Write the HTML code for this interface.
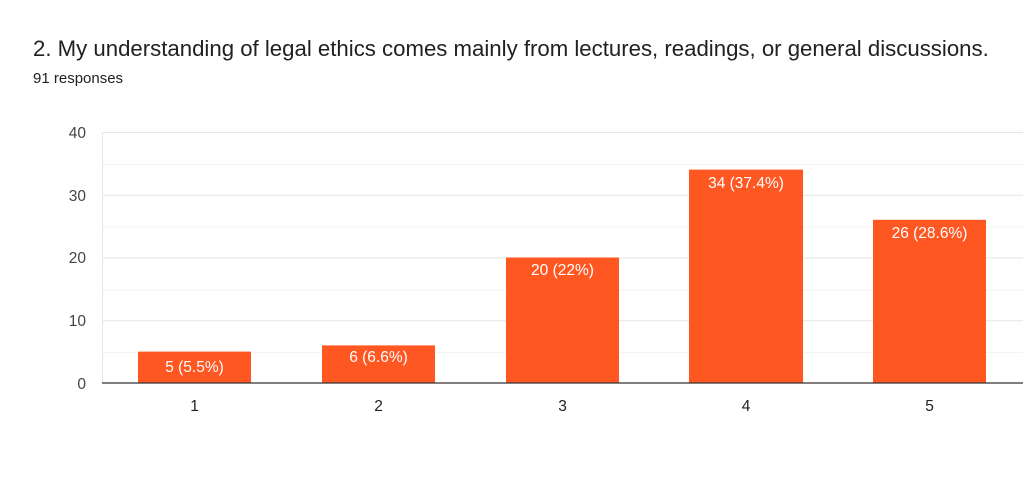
<!DOCTYPE html>
<html><head><style>
body{margin:0;background:#fff;width:1023px;height:487px;overflow:hidden;font-family:"Liberation Sans",Arial,sans-serif;}
</style></head><body>
<svg width="1023" height="487" xmlns="http://www.w3.org/2000/svg" font-family="Liberation Sans, Arial, sans-serif">
<text x="33" y="56" font-size="22.2" fill="#202124">2. My understanding of legal ethics comes mainly from lectures, readings, or general discussions.</text>
<text x="33" y="83" font-size="15" fill="#202124">91 responses</text>
<g stroke="#f3f3f3" stroke-width="1">
<line x1="102" x2="1023" y1="164.4" y2="164.4"/>
<line x1="102" x2="1023" y1="227.1" y2="227.1"/>
<line x1="102" x2="1023" y1="289.9" y2="289.9"/>
<line x1="102" x2="1023" y1="352.6" y2="352.6"/>
</g>
<g stroke="#e6e6e6" stroke-width="1">
<line x1="102" x2="1023" y1="132.5" y2="132.5"/>
<line x1="102" x2="1023" y1="195.3" y2="195.3"/>
<line x1="102" x2="1023" y1="258" y2="258"/>
<line x1="102" x2="1023" y1="320.8" y2="320.8"/>
<line x1="102.5" x2="102.5" y1="132" y2="383"/>
</g>
<g font-size="15.5" fill="#444" text-anchor="end">
<text x="86" y="138">40</text><text x="86" y="201">30</text><text x="86" y="263">20</text><text x="86" y="326">10</text><text x="86" y="389">0</text>
</g>
<g fill="#ff5722">
<rect x="138" y="351.6" width="113" height="31.4"/>
<rect x="322" y="345.4" width="113" height="37.6"/>
<rect x="506" y="257.5" width="113" height="125.5"/>
<rect x="689" y="169.6" width="114" height="213.4"/>
<rect x="873" y="219.8" width="113" height="163.2"/>
</g>
<line x1="102" x2="1023" y1="383" y2="383" stroke="#333" stroke-width="1.3"/>
<g font-size="15.5" fill="#fff" text-anchor="middle">
<text x="194.5" y="372">5 (5.5%)</text>
<text x="378.5" y="362">6 (6.6%)</text>
<text x="562.5" y="275">20 (22%)</text>
<text x="746" y="188">34 (37.4%)</text>
<text x="929.5" y="238">26 (28.6%)</text>
</g>
<g font-size="15.5" fill="#222" text-anchor="middle">
<text x="194.5" y="411">1</text><text x="378.5" y="411">2</text><text x="562.5" y="411">3</text><text x="746" y="411">4</text><text x="929.5" y="411">5</text>
</g>
</svg>
</body></html>
